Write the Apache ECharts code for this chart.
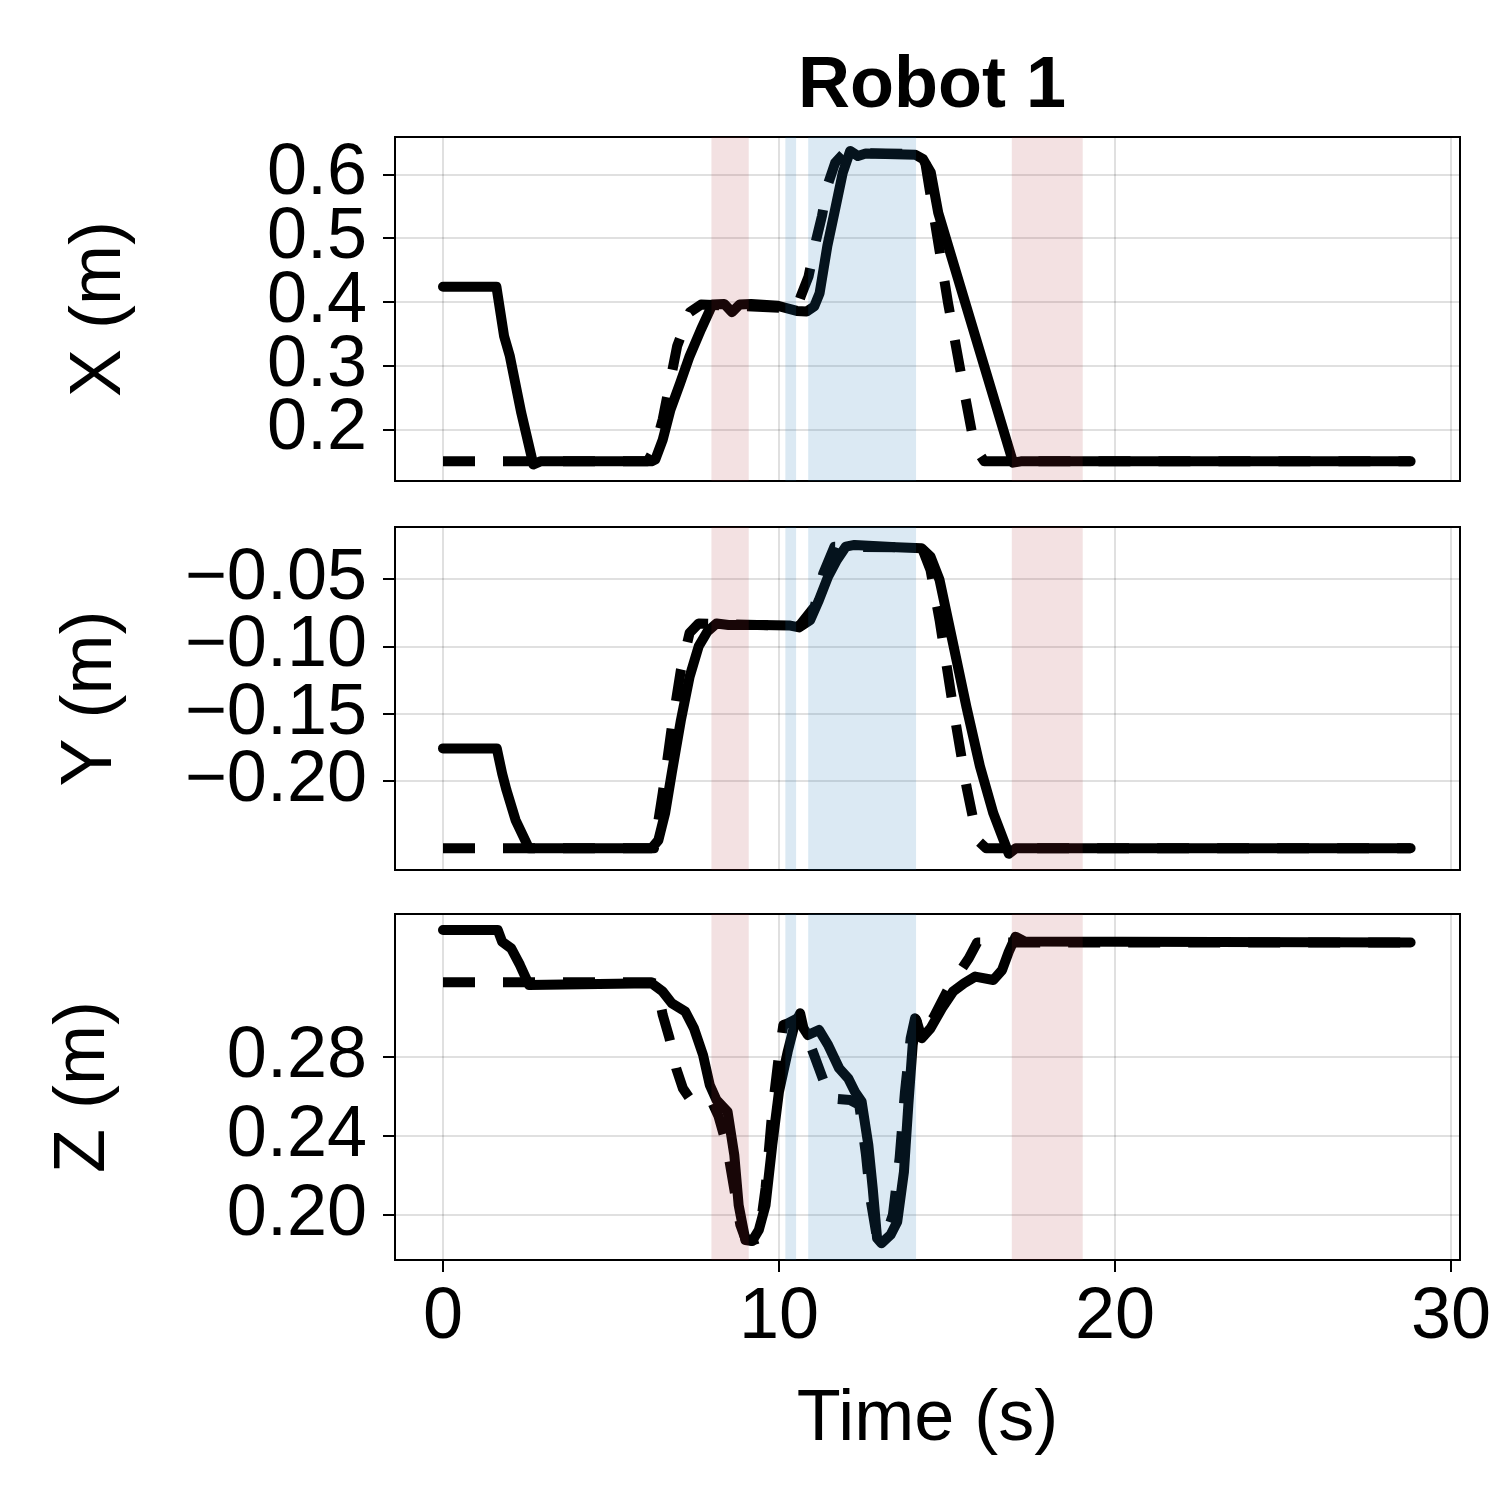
<!DOCTYPE html>
<html>
<head>
<meta charset="utf-8">
<script src="https://cdn.jsdelivr.net/npm/echarts@6/dist/echarts.min.js"></script>
<style>
  html, body { margin: 0; padding: 0; background: #fff; }
  #chart { width: 1500px; height: 1500px; }
</style>
</head>
<body>
<div id="chart"></div>
<script>
// time ticks and panel ticks
const timeTicks = [0, 10, 20, 30];
const xTicks = [0.2, 0.3, 0.4, 0.5, 0.6];
const yTicks = [-0.20, -0.15, -0.10, -0.05];
const zTicks = [0.20, 0.24, 0.28];

// shaded phases (s)
const shadeStart = [7.99, 10.19, 10.87, 16.93];
const shadeEnd   = [9.10, 10.51, 14.08, 19.04];
const shadeKind  = ['red', 'blue', 'blue', 'red'];

// X position: measured (solid) and reference (dashed)
const xActT = [0, 1.59, 1.62, 1.82, 1.99, 2.33, 2.69, 2.9, 6.2, 6.32, 6.54, 6.77, 7.06, 7.34, 7.68, 8.02, 8.37, 8.6, 8.83, 9.17, 9.97, 10.53, 10.82, 11.05, 11.21, 11.44, 11.67, 11.9, 12.12, 12.35, 12.58, 14.06, 14.29, 14.52, 14.74, 16.97, 17.2, 28.8];
const xActV = [0.424, 0.424, 0.422, 0.346, 0.315, 0.226, 0.145, 0.150, 0.150, 0.153, 0.184, 0.231, 0.273, 0.315, 0.357, 0.396, 0.397, 0.384, 0.396, 0.397, 0.394, 0.386, 0.385, 0.393, 0.414, 0.488, 0.545, 0.603, 0.637, 0.629, 0.633, 0.631, 0.624, 0.603, 0.540, 0.148, 0.150, 0.150];
const xRefT = [0, 6.09, 6.3, 6.54, 6.97, 7.35, 7.68, 10.53, 10.65, 10.88, 11.11, 11.28, 11.44, 11.67, 11.95, 14.2, 14.35, 14.63, 15.03, 15.54, 15.82, 16.11, 28.8];
const xRefV = [0.150, 0.150, 0.170, 0.216, 0.331, 0.384, 0.396, 0.390, 0.409, 0.440, 0.498, 0.535, 0.582, 0.618, 0.634, 0.632, 0.620, 0.529, 0.399, 0.252, 0.174, 0.150, 0.150];

// Y position
const yActT = [0, 1.60, 1.76, 1.89, 2.16, 2.56, 2.7, 6.21, 6.41, 6.61, 6.81, 7.08, 7.34, 7.61, 7.87, 8.14, 8.5, 9.5, 10.3, 10.6, 10.93, 11.19, 11.46, 11.72, 11.99, 12.25, 13.5, 14.25, 14.51, 14.78, 15.18, 15.58, 15.98, 16.38, 16.84, 17.05, 28.8];
const yActV = [-0.1758, -0.1758, -0.1944, -0.2068, -0.229, -0.250, -0.250, -0.250, -0.244, -0.224, -0.194, -0.155, -0.1226, -0.100, -0.089, -0.083, -0.0842, -0.0842, -0.0845, -0.086, -0.0805, -0.0656, -0.0483, -0.036, -0.026, -0.0247, -0.0265, -0.0272, -0.0334, -0.0507, -0.0978, -0.145, -0.189, -0.224, -0.254, -0.250, -0.250];
const yRefT = [0, 6.28, 6.54, 6.81, 7.08, 7.34, 7.61, 10.6, 11.06, 11.32, 11.65, 14.25, 14.51, 14.78, 15.18, 15.58, 15.91, 16.17, 28.8];
const yRefV = [-0.25, -0.25, -0.209, -0.160, -0.1176, -0.090, -0.083, -0.085, -0.0706, -0.0458, -0.026, -0.0265, -0.0433, -0.0805, -0.145, -0.204, -0.244, -0.25, -0.25];

// Z position
const zActT = [0, 1.63, 1.76, 2.03, 2.29, 2.56, 6.21, 6.54, 6.81, 7.21, 7.47, 7.74, 7.94, 8.14, 8.47, 8.67, 8.80, 9.0, 9.2, 9.4, 9.6, 9.8, 10.0, 10.26, 10.46, 10.63, 10.73, 10.86, 11.19, 11.46, 11.79, 12.06, 12.26, 12.46, 12.66, 12.79, 12.92, 13.05, 13.32, 13.52, 13.72, 13.85, 13.98, 14.09, 14.25, 14.51, 14.85, 15.18, 15.51, 15.84, 16.38, 16.64, 16.84, 17.04, 17.31, 28.8];
const zActV = [0.3443, 0.3443, 0.3384, 0.335, 0.3266, 0.3165, 0.3173, 0.3131, 0.3072, 0.303, 0.2945, 0.281, 0.2658, 0.2582, 0.2523, 0.2304, 0.205, 0.1873, 0.1868, 0.1924, 0.205, 0.2354, 0.2624, 0.2827, 0.2962, 0.3021, 0.2945, 0.2911, 0.2937, 0.2861, 0.2743, 0.2692, 0.2624, 0.2574, 0.2354, 0.2135, 0.1882, 0.1857, 0.1899, 0.1966, 0.2219, 0.2557, 0.2861, 0.2987, 0.2895, 0.2945, 0.3047, 0.3131, 0.3173, 0.3207, 0.319, 0.324, 0.3333, 0.3409, 0.3385, 0.338];
const zRefT = [0, 6.2, 6.35, 6.54, 6.74, 6.94, 7.14, 7.41, 8.0, 8.2, 8.45, 8.65, 8.85, 9.0, 9.2, 9.4, 9.6, 9.8, 10.0, 10.13, 10.26, 10.6, 10.86, 11.19, 11.52, 12.12, 12.39, 12.59, 12.72, 12.92, 13.19, 13.39, 13.59, 13.75, 13.92, 14.05, 14.25, 14.6, 15.05, 15.65, 15.9, 28.8];
const zRefV = [0.3178, 0.3178, 0.317, 0.3013, 0.2895, 0.2743, 0.2641, 0.2574, 0.2574, 0.25, 0.235, 0.215, 0.195, 0.188, 0.187, 0.1882, 0.2135, 0.2523, 0.281, 0.2962, 0.297, 0.30, 0.2895, 0.2743, 0.259, 0.2582, 0.2557, 0.2304, 0.2085, 0.1882, 0.19, 0.20, 0.2287, 0.2624, 0.2895, 0.2996, 0.292, 0.300, 0.3148, 0.330, 0.338, 0.338];

const FONT = "'Liberation Sans', Arial, Helvetica, sans-serif";
const shadeColor = { red: 'rgba(170,40,50,0.14)', blue: 'rgba(31,119,180,0.16)' };

function zip(t, v) { return t.map((x, i) => [x, v[i]]); }

const grids = [
  { left: 395, top: 137, width: 1065, height: 344 },
  { left: 395, top: 527, width: 1065, height: 343 },
  { left: 395, top: 914, width: 1065, height: 346 }
];

const yRanges = [[0.1192, 0.6588], [-0.2661, -0.0114], [0.1772, 0.3524]];
const yTickSets = [xTicks, yTicks, zTicks];
const yNames = ['X (m)', 'Y (m)', 'Z (m)'];
const yNameGaps = [259, 268, 275];
const yFormat = [
  v => v.toFixed(1),
  v => (v < 0 ? '\u2212' : '') + Math.abs(v).toFixed(2),
  v => v.toFixed(2)
];

const gridLine = { show: true, lineStyle: { color: 'rgba(0,0,0,0.12)', width: 2 } };

let xAxes = [], yAxes = [], series = [];
for (let i = 0; i < 3; i++) {
  const bottom = i === 2;
  xAxes.push({
    type: 'value', gridIndex: i, min: -1.4286, max: 30.27,
    axisLine: { show: false, onZero: false },
    axisTick: { show: bottom, customValues: timeTicks, length: 12, lineStyle: { color: '#000', width: 2 } },
    axisLabel: { show: bottom, customValues: timeTicks, showMinLabel: true, showMaxLabel: true,
      fontSize: 72, color: '#000', fontFamily: FONT, margin: 22 },
    splitLine: gridLine,
    name: bottom ? 'Time (s)' : '', nameLocation: 'middle', nameGap: 124,
    nameTextStyle: { fontSize: 72, color: '#000', fontFamily: FONT }
  });
  // tick values split in two alternating sets so dense labels are never thinned out
  const sets = [yTickSets[i].filter((v, k) => k % 2 === 0), yTickSets[i].filter((v, k) => k % 2 === 1)];
  sets.forEach((vals, s) => {
    yAxes.push({
      type: 'value', gridIndex: i, min: yRanges[i][0], max: yRanges[i][1], position: 'left',
      axisLine: { show: false, onZero: false },
      axisTick: { show: true, customValues: vals, length: 12, lineStyle: { color: '#000', width: 2 } },
      axisLabel: { customValues: vals, formatter: yFormat[i], showMinLabel: true, showMaxLabel: true,
        fontSize: 72, color: '#000', fontFamily: FONT, margin: 28 },
      splitLine: gridLine,
      name: s === 0 ? yNames[i] : '', nameLocation: 'middle', nameRotate: 90, nameGap: yNameGaps[i],
      nameTextStyle: { fontSize: 72, color: '#000', fontFamily: FONT }
    });
  });
}

const lines = [
  [xActT, xActV, xRefT, xRefV],
  [yActT, yActV, yRefT, yRefV],
  [zActT, zActV, zRefT, zRefV]
];
lines.forEach((l, i) => {
  const yi = 2 * i;
  series.push({
    type: 'line', xAxisIndex: i, yAxisIndex: yi, z: 2,
    showSymbol: false, symbol: 'none',
    lineStyle: { color: '#000', width: 10, type: [32, 28], cap: 'butt', join: 'round' },
    data: zip(l[2], l[3])
  });
  series.push({
    type: 'line', xAxisIndex: i, yAxisIndex: yi, z: 3,
    showSymbol: false, symbol: 'none',
    lineStyle: { color: '#000', width: 10, cap: 'round', join: 'round' },
    data: zip(l[0], l[1])
  });
  // phase shading drawn over the traces
  series.push({
    type: 'custom', xAxisIndex: i, yAxisIndex: yi, z: 10, silent: true,
    data: shadeStart.map((s, k) => [s, shadeEnd[k], k]),
    encode: { x: [0, 1] },
    renderItem: function (params, api) {
      const cs = params.coordSys;
      const y0 = yRanges[i][0];
      const x0 = api.coord([api.value(0), y0])[0];
      const x1 = api.coord([api.value(1), y0])[0];
      return {
        type: 'rect',
        shape: { x: x0, y: cs.y, width: x1 - x0, height: cs.height },
        style: { fill: shadeColor[shadeKind[api.value(2)]] }
      };
    }
  });
});

const chart = echarts.init(document.getElementById('chart'));
chart.setOption({
  animation: false,
  backgroundColor: '#fff',
  title: {
    text: 'Robot 1', left: 927, top: 46, textAlign: 'center',
    textStyle: { fontSize: 72, fontWeight: 'bold', color: '#000', fontFamily: FONT }
  },
  grid: grids.map(g => Object.assign({ show: true, borderColor: '#000', borderWidth: 2, backgroundColor: 'transparent' }, g)),
  xAxis: xAxes,
  yAxis: yAxes,
  series: series
});
</script>
</body>
</html>
